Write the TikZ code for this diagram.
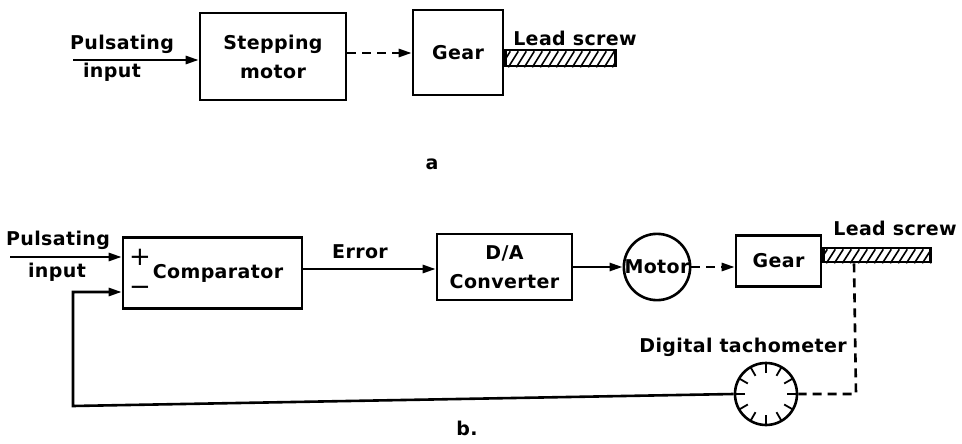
\documentclass[tikz,border=0pt]{standalone}
\usepackage{fontspec}
\setmainfont{DejaVu Sans}[LetterSpace=2]
\usetikzlibrary{arrows.meta,calc}
\newcommand\dgmfont{\fontsize{19}{29}\selectfont\bfseries}
\newcommand\signfont{\fontsize{26}{26}\selectfont}
\begin{document}
\begin{tikzpicture}[x=1pt,y=-1pt,line width=2.6pt,
  box/.style={draw,rectangle,inner sep=0pt,font=\dgmfont},
  lbl/.style={inner sep=0pt,font=\dgmfont},
  arr/.style={-{Triangle[length=13pt,width=8pt]}},
  dsh/.style={dash pattern=on 9pt off 6pt},
  screw/.style={draw,rectangle,inner sep=0pt},
  hatch/.style={line width=1.6pt}]
\useasboundingbox (0,0) rectangle (962,444);

% ---------- (a) ----------
\node[box,minimum width=146,minimum height=87,align=center] (sm) at (273,56.5) {Stepping\\motor};
\node[box,minimum width=90,minimum height=85] (g1) at (458,52.5) {Gear};
\node[screw,minimum width=110,minimum height=16,anchor=west] (s1) at (g1.east |- 0,58) {};
\begin{scope}
  \clip (s1.south west) rectangle (s1.north east);
  \foreach \i in {0,...,14} \draw[hatch] ([xshift=\i*8pt-4pt]s1.south west) -- ++(10,-16);
\end{scope}
\node[screw,minimum width=110,minimum height=16,anchor=west] (s1b) at (g1.east |- 0,58) {};
\node[lbl] (ls1) at (575,38) {Lead screw};
\node[lbl] (pa) at (122,44) {Pulsating};
\node[lbl] (ia) at (112,72) {input};
\coordinate (in1) at (73,60);
\draw[arr] (in1) -- (in1 -| sm.west);
\draw[dsh,arr] (sm.east |- 0,53) -- (g1.west |- 0,53);
\node[lbl] (capa) at (432,164) {a};

% ---------- (b) ----------
\node[box,minimum width=179,minimum height=71] (comp) at (212.5,273) {};
\node[inner sep=0pt,font=\signfont] (plus) at (140,257) {+};
\node[inner sep=0pt,font=\signfont] (minus) at (140,291) {−};
\node[lbl] (compl) at (218,273) {Comparator};
\coordinate (in2) at (10,257);
\draw[arr] (in2) -- (in2 -| comp.west);
\node[lbl] (pb) at (58,240) {Pulsating};
\node[lbl] (ib) at (57,272) {input};

\node[box,minimum width=135,minimum height=66,align=center] (da) at (504.5,267) {D/A\\Converter};
\draw[arr] (comp.east |- 0,269) -- (da.west |- 0,269);
\node[lbl] (err) at (360,252) {Error};

\node[draw,circle,minimum size=63,inner sep=0pt,font=\dgmfont] (mot) at (657,267) {Motor};
\draw[arr] (da.east) -- (mot.west);

\node[box,minimum width=85,minimum height=51] (g2) at (778.5,261) {Gear};
\draw[dsh,arr] (mot.east) -- (mot.east -| g2.west);

\node[screw,minimum width=107,minimum height=14,anchor=west] (s2) at (g2.east |- 0,255) {};
\begin{scope}
  \clip (s2.south west) rectangle (s2.north east);
  \foreach \i in {0,...,14} \draw[hatch] ([xshift=\i*8pt-4pt]s2.south west) -- ++(9,-14);
\end{scope}
\node[screw,minimum width=107,minimum height=14,anchor=west] (s2b) at (g2.east |- 0,255) {};
\node[lbl,anchor=base west] (ls2) at (832,235) {Lead screw};

\node[draw,circle,minimum size=62,inner sep=0pt] (tach) at (766,394) {};
\foreach \a in {0,30,...,330} \draw[line width=1.8pt] (tach.center) ++(\a:21) -- ++(\a:10);
\node[lbl,anchor=base east] (dt) at (848,352) {Digital tachometer};

\coordinate (tap) at (s2.south -| 854,0);
\coordinate (tc) at (856,394);
\draw[dsh] (tap) -- (tc) -- (tach.east);

\coordinate (bl) at (73,406);
\coordinate (tl) at (73,292);
\draw[arr] (tach.west) -- (bl) -- (tl) -- (tl -| comp.west);

\node[lbl] (capb) at (467,428) {b.};
\end{tikzpicture}
\end{document}
